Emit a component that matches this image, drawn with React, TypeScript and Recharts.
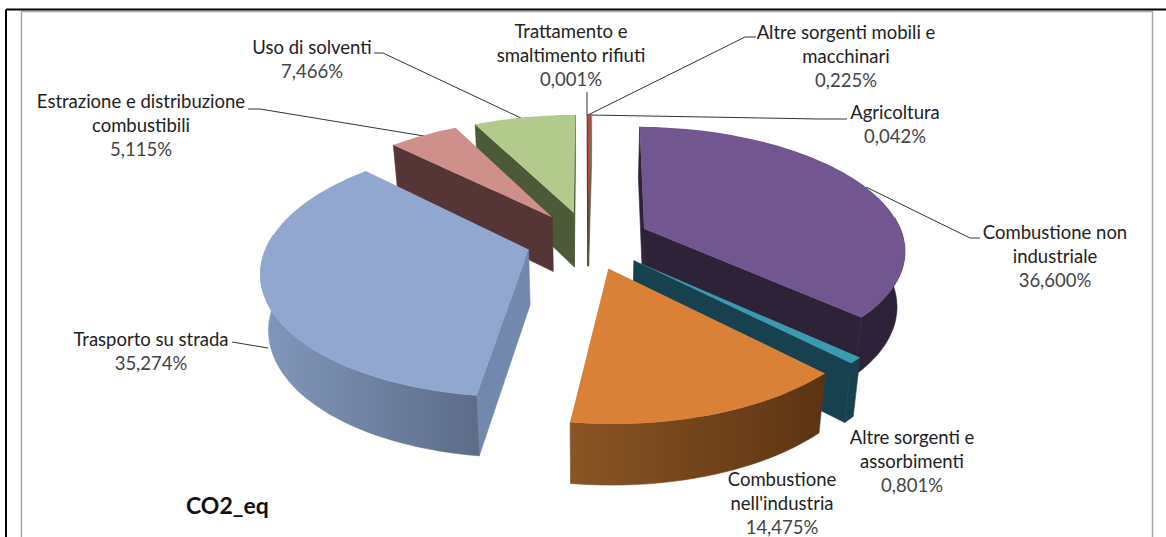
import React from "react";
import { Pie, PieChart } from "recharts";

// values in percent, clockwise from 12 o'clock
const categories = [
  "Combustione non industriale",
  "Altre sorgenti e assorbimenti",
  "Combustione nell'industria",
  "Trasporto su strada",
  "Estrazione e distribuzione combustibili",
  "Uso di solventi",
  "Trattamento e smaltimento rifiuti",
  "Altre sorgenti mobili e macchinari",
  "Agricoltura",
];
const shares = [36.6, 0.801, 14.475, 35.274, 5.115, 7.466, 0.001, 0.225, 0.042];

const topColors = ["#71568f", "#3a9bb0", "#da8138", "#91a7cf", "#cf8f8b", "#b3ca8d", "#c0504d", "#b9473f", "#8d9f5f"];
const wallLeft = ["#2e2239", "#17414f", "#8a5523", "#8298bb", "#553535", "#4c5a37", "#5a2a28", "#5a2a28", "#5f6b40"];
const wallRight = ["#2e2239", "#17414f", "#5c3413", "#5c6c88", "#553535", "#4c5a37", "#5a2a28", "#5a2a28", "#5f6b40"];
const cutColors = ["#2e2239", "#17414f", "#5c3413", "#7288ad", "#553535", "#4c5a37", "#5a2a28", "#5a2a28", "#5f6b40"];

// painter's order, back to front
const drawOrder = [6, 7, 8, 5, 4, 0, 3, 1, 2];

const data = categories.map((name, i) => ({ name, value: shares[i], idx: i }));

// label text lines and where they sit
const labelLayout = [
  { lines: ["Combustione non", "industriale"], x: 1055, y: 239 },
  { lines: ["Altre sorgenti e", "assorbimenti"], x: 912, y: 444 },
  { lines: ["Combustione", "nell'industria"], x: 782, y: 486 },
  { lines: ["Trasporto su strada"], x: 151, y: 346 },
  { lines: ["Estrazione e distribuzione", "combustibili"], x: 141, y: 108 },
  { lines: ["Uso di solventi"], x: 312, y: 54 },
  { lines: ["Trattamento e", "smaltimento rifiuti"], x: 571, y: 38 },
  { lines: ["Altre sorgenti mobili e", "macchinari"], x: 846, y: 39 },
  { lines: ["Agricoltura"], x: 895, y: 119 },
];
const leaders = [
  "866,187 970,238 980,238",
  "",
  "",
  "232,342 268,348",
  "248,109 260,109 424,136",
  "374,53 383,53 523,119",
  "587,92 587,115",
  "756,37 745,37 588,115",
  "847,119 820,119 590,115",
];

const CX = 588;
const CY = 240;
const RADIUS = 260;
const EXPLODE = 62;
const TILT = 0.466;
const PERSP = 1658;
const DEPTH = 55;
const FIRST_SLICE = 0.8; // degrees of rotation off 12 o'clock
const TAPER = 0.975; // the bottom rim is a little narrower than the top one

const project = (gx: number, gy: number) => {
  const s = PERSP / (PERSP - gy);
  return { x: CX + gx * s, y: CY + TILT * gy * s, s };
};
const rad = (a: number) => (a * Math.PI) / 180;
const lower = (p: { x: number; y: number; s: number }) => ({
  x: CX + (p.x - CX) * TAPER,
  y: p.y + DEPTH * Math.sqrt(p.s),
  s: p.s,
});
const toPath = (pts: { x: number; y: number }[]) =>
  "M" + pts.map((p) => `${p.x.toFixed(1)},${p.y.toFixed(1)}`).join("L") + "Z";

function Slice3D(props: any) {
  const { startAngle, endAngle, outerRadius } = props;
  const idx = props.payload?.idx ?? props.idx;
  const only = props.only;
  if (idx !== only) return <g />;
  const mid = rad((startAngle + endAngle) / 2);
  const ox = Math.cos(mid) * EXPLODE;
  const oy = -Math.sin(mid) * EXPLODE;
  const at = (deg: number) => project(ox + Math.cos(rad(deg)) * outerRadius, oy - Math.sin(rad(deg)) * outerRadius);
  const apex = project(ox, oy);

  const arc: { deg: number; p: ReturnType<typeof project> }[] = [];
  const steps = Math.max(2, Math.ceil(Math.abs(startAngle - endAngle) / 2));
  for (let i = 0; i <= steps; i++) {
    const deg = startAngle + ((endAngle - startAngle) * i) / steps;
    arc.push({ deg, p: at(deg) });
  }
  const ring = arc.map((a) => a.p);
  const midPt = ring[Math.floor(ring.length / 2)];

  // only the cut faces turned toward the viewer
  const cutFace = (corner: { x: number; y: number; s: number }) => {
    const vx = corner.x - apex.x;
    const vy = corner.y - apex.y;
    const cross = vx * (midPt.y - apex.y) - vy * (midPt.x - apex.x);
    if (cross * Math.sign(vx || 1) >= 0) return null;
    return <path d={toPath([apex, corner, lower(corner), lower(apex)])} fill={cutColors[idx]} stroke={cutColors[idx]} strokeWidth={0.6} />;
  };

  const front = arc.filter((a) => Math.sin(rad(a.deg)) < 0.12).map((a) => a.p);

  return (
    <g>
      {cutFace(ring[ring.length - 1])}
      {cutFace(ring[0])}
      {front.length > 1 && (
        <path d={toPath([...front, ...front.map(lower).reverse()])} fill={`url(#wall${idx})`} stroke={`url(#wall${idx})`} strokeWidth={0.6} />
      )}
      <path d={toPath([apex, ...ring])} fill={topColors[idx]} />
    </g>
  );
}

const formatShare = (v: number) => `${v.toFixed(3).replace(".", ",")}%`;

export default function App() {
  return (
    <div style={{ position: "absolute", left: 0, top: 0, width: 1166, height: 537, background: "#fff", overflow: "hidden" }}>
      <PieChart width={1166} height={537} margin={{ top: 0, right: 0, bottom: 0, left: 0 }}>
        <defs>
          {categories.map((_, i) => (
            <linearGradient key={i} id={`wall${i}`} x1="0" y1="0" x2="1" y2="0">
              <stop offset="0%" stopColor={wallLeft[i]} />
              <stop offset="100%" stopColor={wallRight[i]} />
            </linearGradient>
          ))}
        </defs>
        <rect x={21.5} y={11.5} width={1131} height={540} fill="none" stroke="#a6a6a6" strokeWidth={1.5} />
        <path d="M6,9.5H1166M6,9.5V537" fill="none" stroke="#000" strokeWidth={2} />
        {drawOrder.map((only) => (
          <Pie
            key={only}
            data={data}
            dataKey="value"
            nameKey="name"
            cx={CX}
            cy={CY}
            innerRadius={0}
            outerRadius={RADIUS}
            startAngle={90 - FIRST_SLICE}
            endAngle={-270 - FIRST_SLICE}
            stroke="none"
            isAnimationActive={false}
            shape={(p: any) => <Slice3D {...p} only={only} />}
          />
        ))}
        {leaders.map((pts, i) =>
          pts ? <polyline key={i} points={pts} fill="none" stroke="#333" strokeWidth={1} /> : null
        )}
        {labelLayout.map((l, i) => (
          <text key={i} textAnchor="middle" fontFamily="Lato, sans-serif" fontSize={18.5} fill="#222">
            {l.lines.map((t, j) => (
              <tspan key={j} x={l.x} y={l.y + j * 24}>{t}</tspan>
            ))}
            <tspan x={l.x} y={l.y + l.lines.length * 24} fill="#444">{formatShare(shares[i])}</tspan>
          </text>
        ))}
        <text x={186} y={514} fontFamily="Lato, sans-serif" fontWeight="bold" fontSize={23} fill="#111">CO2_eq</text>
      </PieChart>
    </div>
  );
}
